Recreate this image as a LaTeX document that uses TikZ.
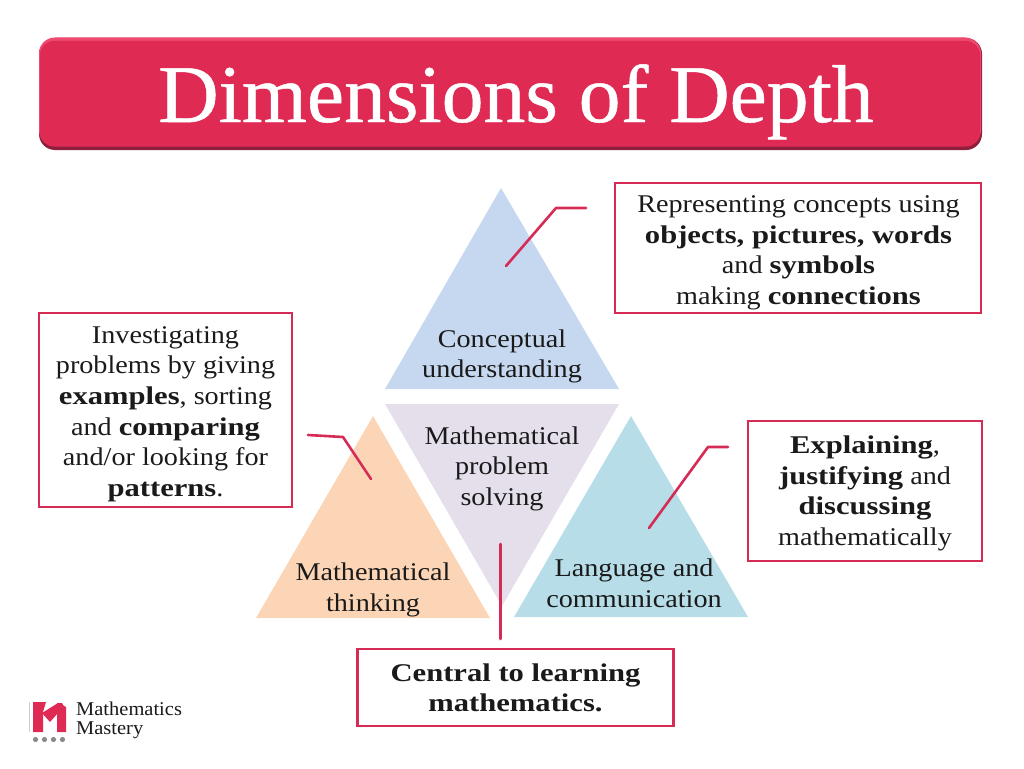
\documentclass[tikz,border=0pt]{standalone}
\usepackage{fontspec}
\setmainfont{Liberation Serif}[FakeStretch=1.105,BoldFeatures={FakeStretch=1.2}]
\newfontfamily\titlefont{Liberation Serif}[FakeStretch=1.02,FakeBold=0.6]
\newfontfamily\logofont{Liberation Serif}[FakeStretch=1.05]
\definecolor{crim}{HTML}{DF2A54}
\definecolor{crimline}{HTML}{D62B55}
\definecolor{crimdark}{HTML}{8E1F3D}
\definecolor{crimlight}{HTML}{EE4A70}
\definecolor{triblue}{HTML}{C6D8F0}
\definecolor{triorange}{HTML}{FBD5B5}
\definecolor{triteal}{HTML}{B7DEE8}
\definecolor{trililac}{HTML}{E5DFEC}
\definecolor{txt}{HTML}{1A1A1A}
\definecolor{logogrey}{HTML}{8A8A8A}
\tikzset{
  infobox/.style={draw=crimline,line width=2.4pt,inner sep=0pt},
  bodytext/.style={align=center,font=\fontsize{25.5}{30.6}\selectfont,text=txt,inner sep=0pt},
  leader/.style={draw=crimline,line width=2.6pt,line cap=round,line join=round},
}
\begin{document}
\begin{tikzpicture}[x=1pt,y=-1pt]
\useasboundingbox (0,0) rectangle (1024,768);
% title banner
\fill[crimdark,rounded corners=16pt] (39,38) rectangle (982,150);
\fill[crimlight,rounded corners=16pt] (39,37.5) rectangle (981,146);
\fill[crim,rounded corners=14pt] (40,41) rectangle (980,146.5);
\node[text=white,inner sep=0pt,anchor=base,font=\titlefont\fontsize{82}{90}\selectfont] (title) at (516,122) {Dimensions of Depth};
% triangles
\fill[triblue] (501,188) -- (619,389) -- (385,389) -- cycle;
\fill[triorange] (373,416) -- (490,618) -- (256,618) -- cycle;
\fill[triteal] (631,416) -- (748,617) -- (514,617) -- cycle;
\fill[trililac] (385,404) -- (619,404) -- (502,606) -- cycle;
\node[bodytext] (conc) at (502,356.5) {Conceptual\\understanding};
\node[bodytext] (prob) at (502,468.5) {Mathematical\\problem\\solving};
\node[bodytext] (thnk) at (373,590) {Mathematical\\thinking};
\node[bodytext] (lang) at (634,583) {Language and\\communication};
% boxes
\node[infobox,minimum width=366pt,minimum height=130pt] (b1) at (798,248) {};
\node[bodytext] (b1t) at (798.5,253) {Representing concepts using\\\textbf{objects, pictures, words}\\and \textbf{symbols}\\making \textbf{connections}};
\node[infobox,minimum width=253pt,minimum height=194pt] (b2) at (165.5,410) {};
\node[bodytext] (b2t) at (165.5,414) {Investigating\\problems by giving\\\textbf{examples}, sorting\\and \textbf{comparing}\\and/or looking for\\\textbf{patterns}.};
\node[infobox,minimum width=234pt,minimum height=140pt] (b3) at (865,491) {};
\node[bodytext] (b3t) at (865,493.5) {\textbf{Explaining},\\\textbf{justifying} and\\\textbf{discussing}\\mathematically};
\node[infobox,minimum width=316pt,minimum height=77pt] (b4) at (515.5,687.5) {};
\node[bodytext] (b4t) at (515.5,688) {\textbf{Central to learning}\\\textbf{mathematics.}};
% leaders
\coordinate (l1a) at (506,266); \coordinate (l1b) at (556,208); \coordinate (l1c) at (586,208);
\coordinate (l2a) at (371,479); \coordinate (l2b) at (343,437); \coordinate (l2c) at (308,435);
\coordinate (l3a) at (649,528); \coordinate (l3b) at (708,447); \coordinate (l3c) at (728,447);
\coordinate (l4a) at (500.5,544); \coordinate (l4b) at (500.5,639);
\draw[leader] (l1a) -- (l1b) -- (l1c);
\draw[leader] (l2a) -- (l2b) -- (l2c);
\draw[leader] (l3a) -- (l3b) -- (l3c);
\draw[leader] (l4a) -- (l4b);
% logo
\fill[crim] (33,702) -- (46,702) -- (43,712) -- (43,732) -- (33,732) -- cycle;
\fill[crim] (42,713) -- (58,703) -- (58,713) -- (50,722) -- cycle;
\fill[crim] (57,703) -- (62,703) .. controls (62.5,705) and (64,706.5) .. (66,707) -- (66,732) -- (57,732) -- cycle;
\draw[black!20,line width=0.5pt] (29,702) -- (29,732);
\foreach \i/\x in {1/35.5,2/44.5,3/53.5,4/62.5}{\fill[logogrey] (\x,739.5) circle (2.6pt);}
\node[inner sep=0pt,anchor=west,align=left,text=txt,font=\logofont\fontsize{19.5}{19}\selectfont] (logo) at (76,720) {Mathematics\\Mastery};
\end{tikzpicture}
\end{document}
